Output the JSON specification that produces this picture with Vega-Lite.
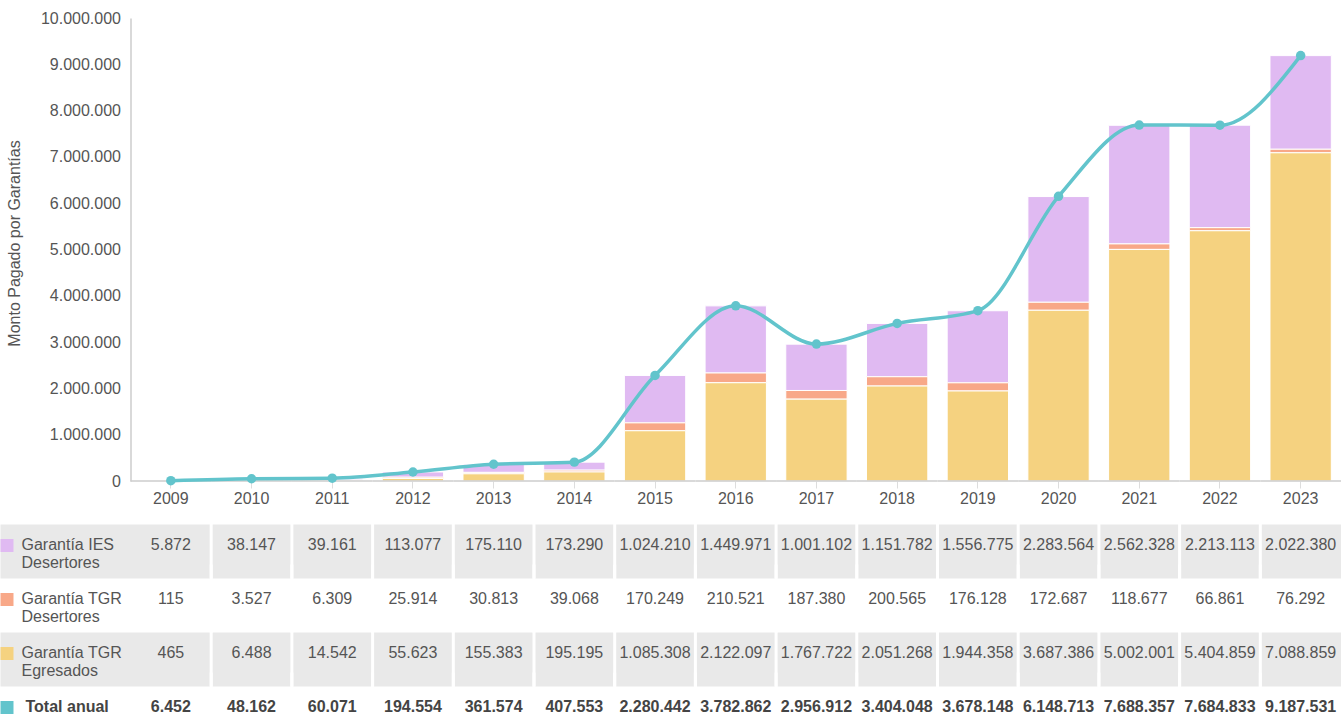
{
  "$schema": "https://vega.github.io/schema/vega-lite/v6.json",
  "width": 1341,
  "height": 697,
  "autosize": {"type": "none"},
  "padding": {"top": 18, "left": 0, "right": 0, "bottom": 0},
  "config": {
    "font": "Liberation Sans",
    "view": {"stroke": null},
    "locale": {"number": {"decimal": ",", "thousands": ".", "grouping": [3], "currency": ["$", ""]}}
  },
  "datasets": {
    "d": [
      {"year": 2009, "serie": "Garantía IES Desertores", "value": 5872},
      {"year": 2010, "serie": "Garantía IES Desertores", "value": 38147},
      {"year": 2011, "serie": "Garantía IES Desertores", "value": 39161},
      {"year": 2012, "serie": "Garantía IES Desertores", "value": 113077},
      {"year": 2013, "serie": "Garantía IES Desertores", "value": 175110},
      {"year": 2014, "serie": "Garantía IES Desertores", "value": 173290},
      {"year": 2015, "serie": "Garantía IES Desertores", "value": 1024210},
      {"year": 2016, "serie": "Garantía IES Desertores", "value": 1449971},
      {"year": 2017, "serie": "Garantía IES Desertores", "value": 1001102},
      {"year": 2018, "serie": "Garantía IES Desertores", "value": 1151782},
      {"year": 2019, "serie": "Garantía IES Desertores", "value": 1556775},
      {"year": 2020, "serie": "Garantía IES Desertores", "value": 2283564},
      {"year": 2021, "serie": "Garantía IES Desertores", "value": 2562328},
      {"year": 2022, "serie": "Garantía IES Desertores", "value": 2213113},
      {"year": 2023, "serie": "Garantía IES Desertores", "value": 2022380},
      {"year": 2009, "serie": "Garantía TGR Desertores", "value": 115},
      {"year": 2010, "serie": "Garantía TGR Desertores", "value": 3527},
      {"year": 2011, "serie": "Garantía TGR Desertores", "value": 6309},
      {"year": 2012, "serie": "Garantía TGR Desertores", "value": 25914},
      {"year": 2013, "serie": "Garantía TGR Desertores", "value": 30813},
      {"year": 2014, "serie": "Garantía TGR Desertores", "value": 39068},
      {"year": 2015, "serie": "Garantía TGR Desertores", "value": 170249},
      {"year": 2016, "serie": "Garantía TGR Desertores", "value": 210521},
      {"year": 2017, "serie": "Garantía TGR Desertores", "value": 187380},
      {"year": 2018, "serie": "Garantía TGR Desertores", "value": 200565},
      {"year": 2019, "serie": "Garantía TGR Desertores", "value": 176128},
      {"year": 2020, "serie": "Garantía TGR Desertores", "value": 172687},
      {"year": 2021, "serie": "Garantía TGR Desertores", "value": 118677},
      {"year": 2022, "serie": "Garantía TGR Desertores", "value": 66861},
      {"year": 2023, "serie": "Garantía TGR Desertores", "value": 76292},
      {"year": 2009, "serie": "Garantía TGR Egresados", "value": 465},
      {"year": 2010, "serie": "Garantía TGR Egresados", "value": 6488},
      {"year": 2011, "serie": "Garantía TGR Egresados", "value": 14542},
      {"year": 2012, "serie": "Garantía TGR Egresados", "value": 55623},
      {"year": 2013, "serie": "Garantía TGR Egresados", "value": 155383},
      {"year": 2014, "serie": "Garantía TGR Egresados", "value": 195195},
      {"year": 2015, "serie": "Garantía TGR Egresados", "value": 1085308},
      {"year": 2016, "serie": "Garantía TGR Egresados", "value": 2122097},
      {"year": 2017, "serie": "Garantía TGR Egresados", "value": 1767722},
      {"year": 2018, "serie": "Garantía TGR Egresados", "value": 2051268},
      {"year": 2019, "serie": "Garantía TGR Egresados", "value": 1944358},
      {"year": 2020, "serie": "Garantía TGR Egresados", "value": 3687386},
      {"year": 2021, "serie": "Garantía TGR Egresados", "value": 5002001},
      {"year": 2022, "serie": "Garantía TGR Egresados", "value": 5404859},
      {"year": 2023, "serie": "Garantía TGR Egresados", "value": 7088859},
      {"year": 2009, "serie": "Total anual", "value": 6452},
      {"year": 2010, "serie": "Total anual", "value": 48162},
      {"year": 2011, "serie": "Total anual", "value": 60071},
      {"year": 2012, "serie": "Total anual", "value": 194554},
      {"year": 2013, "serie": "Total anual", "value": 361574},
      {"year": 2014, "serie": "Total anual", "value": 407553},
      {"year": 2015, "serie": "Total anual", "value": 2280442},
      {"year": 2016, "serie": "Total anual", "value": 3782862},
      {"year": 2017, "serie": "Total anual", "value": 2956912},
      {"year": 2018, "serie": "Total anual", "value": 3404048},
      {"year": 2019, "serie": "Total anual", "value": 3678148},
      {"year": 2020, "serie": "Total anual", "value": 6148713},
      {"year": 2021, "serie": "Total anual", "value": 7688357},
      {"year": 2022, "serie": "Total anual", "value": 7684833},
      {"year": 2023, "serie": "Total anual", "value": 9187531}
    ]
  },
  "data": {"name": "d"},
  "layer": [
    {
      "layer": [
        {
          "transform": [{"filter": "datum.serie != 'Total anual'"}],
          "mark": {"type": "bar", "width": {"band": 0.76}, "stroke": "white", "strokeWidth": 1},
          "encoding": {
            "x": {
              "field": "year", "type": "ordinal",
              "scale": {"paddingInner": 0, "paddingOuter": 0.8085, "align": 1},
              "axis": {"orient": "bottom", "offset": -234, "domain": false, "title": null, "labelAngle": 0, "labelFontSize": 16, "labelColor": "#555555", "tickColor": "#dddddd", "tickSize": 7, "tickWidth": 1, "labelPadding": 2}
            },
            "y": {
              "field": "value", "type": "quantitative", "stack": "zero",
              "scale": {"domain": [0, 10000000], "nice": false, "range": [463, 0]},
              "axis": {"orient": "left", "offset": -130.5, "values": [0, 1000000, 2000000, 3000000, 4000000, 5000000, 6000000, 7000000, 8000000, 9000000, 10000000], "format": ",d", "grid": false, "ticks": false, "labelPadding": 10, "labelFontSize": 16, "labelColor": "#555555", "domainColor": "#cccccc", "domainWidth": 1.5, "title": "Monto Pagado por Garantías", "titleFontSize": 16, "titleFontWeight": "normal", "titleColor": "#555555", "titleX": -108, "titleY": 225, "titleAngle": -90, "titleBaseline": "bottom"}
            },
            "color": {
              "field": "serie", "type": "nominal",
              "scale": {"domain": ["Garantía IES Desertores", "Garantía TGR Desertores", "Garantía TGR Egresados", "Total anual"], "range": ["#e0baf2", "#f8a888", "#f5d280", "#62c4cc"]},
              "legend": null
            },
            "order": {"field": "serie", "type": "nominal", "sort": "descending"}
          }
        },
        {
          "transform": [{"filter": "datum.serie == 'Total anual'"}],
          "mark": {"type": "rule", "color": "#cccccc", "strokeWidth": 1.5},
          "encoding": {
            "x": {"field": "year", "type": "ordinal", "bandPosition": 0},
            "x2": {"field": "year", "bandPosition": 1},
            "y": {"datum": 0}
          }
        },
        {
          "transform": [{"filter": "datum.serie == 'Total anual'"}],
          "mark": {"type": "line", "interpolate": "monotone", "color": "#62c4cc", "strokeWidth": 3.5},
          "encoding": {
            "x": {"field": "year", "type": "ordinal"},
            "y": {"field": "value", "type": "quantitative"}
          }
        },
        {
          "transform": [{"filter": "datum.serie == 'Total anual'"}],
          "mark": {"type": "point", "filled": true, "opacity": 1, "size": 90, "color": "#62c4cc"},
          "encoding": {
            "x": {"field": "year", "type": "ordinal"},
            "y": {"field": "value", "type": "quantitative"}
          }
        }
      ]
    },
    {
      "layer": [
        {
          "transform": [{"filter": "datum.year > 2009"}],
          "mark": {"type": "tick", "orient": "vertical", "size": 68, "thickness": 3, "color": "white", "opacity": 1},
          "encoding": {
            "x": {"field": "year", "type": "ordinal", "bandPosition": 0},
            "y": {
              "field": "serie", "type": "nominal",
              "scale": {"type": "point", "domain": ["Garantía IES Desertores", "Garantía TGR Desertores", "Garantía TGR Egresados", "Total anual"], "padding": 0, "range": [526.5, 688.5]},
              "axis": {"orient": "left", "grid": true, "gridWidth": 54, "gridColor": {"condition": {"test": "datum.value == 'Garantía IES Desertores' || datum.value == 'Garantía TGR Egresados'", "value": "#e9e9e9"}, "value": "transparent"}, "tickOffset": 6, "labels": false, "ticks": false, "domain": false, "title": null}
            }
          }
        }
      ]
    },
    {
      "layer": [
        {
          "transform": [{"filter": "datum.serie != 'Total anual'"}],
          "mark": {"type": "text", "fontSize": 16, "color": "#555555", "baseline": "middle", "align": "center"},
          "encoding": {
            "x": {"field": "year", "type": "ordinal"},
            "y": {
              "field": "serie", "type": "nominal",
              "scale": {"type": "point", "domain": ["Garantía IES Desertores", "Garantía TGR Desertores", "Garantía TGR Egresados", "Total anual"], "padding": 0, "range": [526.5, 688.5]},
              "axis": {
                "orient": "left", "grid": false, "domain": false, "title": null,
                "ticks": true, "tickSize": -13, "tickWidth": 13, "tickCap": "butt",
                "tickColor": {"condition": [
                  {"test": "datum.value == 'Garantía IES Desertores'", "value": "#e0baf2"},
                  {"test": "datum.value == 'Garantía TGR Desertores'", "value": "#f8a888"},
                  {"test": "datum.value == 'Garantía TGR Egresados'", "value": "#f5d280"}
                ], "value": "#62c4cc"},
                "labelExpr": "datum.value == 'Total anual' ? datum.value : [slice(datum.value, 0, lastindexof(datum.value, ' ')), slice(datum.value, lastindexof(datum.value, ' ') + 1)]",
                "labelAlign": "left", "labelBaseline": "top", "labelOffset": -8,
                "labelPadding": {"condition": {"test": "datum.value == 'Total anual'", "value": -12}, "value": -8},
                "labelFontSize": 16, "labelLineHeight": 18,
                "labelColor": {"condition": {"test": "datum.value == 'Total anual'", "value": "#444444"}, "value": "#555555"},
                "labelFontWeight": {"condition": {"test": "datum.value == 'Total anual'", "value": "bold"}, "value": "normal"},
                "labelOverlap": false, "labelBound": false, "labelLimit": 0
              }
            },
            "text": {"field": "value", "type": "quantitative", "format": ","}
          }
        },
        {
          "transform": [{"filter": "datum.serie == 'Total anual'"}],
          "mark": {"type": "text", "fontSize": 16, "fontWeight": "bold", "color": "#444444", "baseline": "middle", "align": "center"},
          "encoding": {
            "x": {"field": "year", "type": "ordinal"},
            "y": {"field": "serie", "type": "nominal"},
            "text": {"field": "value", "type": "quantitative", "format": ","}
          }
        }
      ]
    }
  ],
  "resolve": {"scale": {"y": "independent"}, "axis": {"y": "independent"}}
}
